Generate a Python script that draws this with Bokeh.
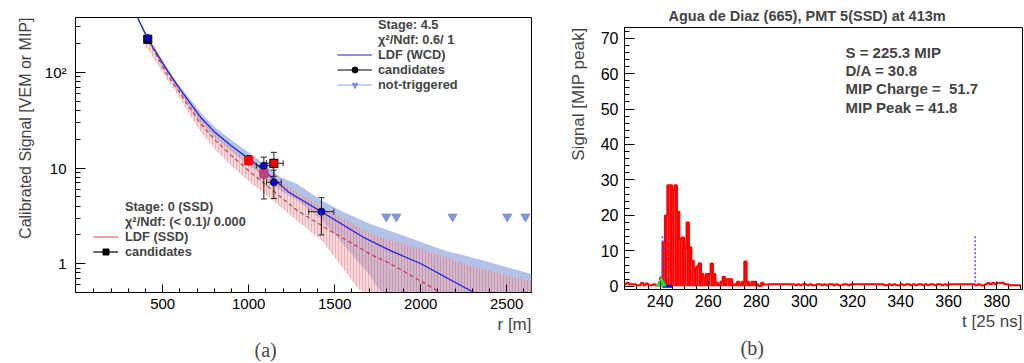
import math
from bokeh.plotting import figure
from bokeh.models import (ColumnDataSource, Legend, LegendItem, Label, FixedTicker,
                          Range1d, CustomJSTickFormatter, Title)
from bokeh.embed import file_html
from bokeh.resources import INLINE

FONT = "Liberation Sans"
SERIF = "Liberation Serif"

# ---------------- data: panel (a) lateral distribution ----------------
ldf_wcd_r = [353, 413, 526, 600, 720, 800, 900, 1040, 1233, 1423, 1669, 1824, 2001, 2309]
ldf_wcd_s = [375, 225, 105, 67, 34, 24, 17, 11.1, 5.6, 3.5, 1.88, 1.37, 1.0, 0.5]

wcd_band_r = [353, 413, 526, 600, 720, 800, 900, 1040, 1185, 1282, 1423, 1533, 1706, 1750, 1824, 2144,
              2309, 2644]
wcd_band_hi = [390, 240, 112, 72, 38, 27, 19.5, 13, 8.0, 6.8, 4.6, 3.6, 2.6, 2.45, 2.2, 1.37, 1.15, 0.78]
wcd_band_lo = [360, 212, 98, 62, 30, 21, 15, 9.5, 5.8, 4.6, 2.9, 1.74, 0.75, 0.56, 0.4, 0.2, 0.15, 0.1]

ldf_ssd_r = [400, 526, 600, 720, 800, 900, 1011, 1282, 1476, 1706, 1824, 2116]
ldf_ssd_s = [245, 95, 61, 29, 20, 13.5, 9.0, 3.6, 2.2, 1.26, 1.0, 0.5]

ssd_band_r = [400, 526, 600, 720, 800, 900, 1011, 1127, 1282, 1427, 1632, 1710, 2001, 2291, 2644]
ssd_band_hi = [240, 105, 68, 33, 23, 16, 11.5, 8.5, 5.6, 3.9, 2.45, 2.05, 1.43, 0.95, 0.65]
ssd_band_lo = [190, 85, 53, 24, 16, 10.5, 7.0, 4.8, 2.8, 1.74, 0.56, 0.42, 0.2, 0.1, 0.05]

# WCD candidates
wcd_r = [413, 1088, 1146, 1423]
wcd_s = [228, 10.6, 7.1, 3.5]
wcd_r_lo = [405, 1044, 1104, 1349]
wcd_r_hi = [421, 1137, 1189, 1495]
wcd_s_lo = [215, 4.75, 4.8, 2.0]
wcd_s_hi = [240, 13.0, 9.5, 4.9]

# SSD candidates
ssd_r = [413, 1000, 1088, 1146]
ssd_s = [222, 12.0, 8.8, 11.2]
ssd_r_lo = [405, 1000, 1066, 1104]
ssd_r_hi = [421, 1000, 1110, 1200]
ssd_s_lo = [212, 10.8, 7.9, 8.2]
ssd_s_hi = [232, 13.5, 9.8, 14.6]
ssd_colors = ["#111111", "#ff0000", "#c04080", "#ff0000"]
ssd_edge = ["#111111", "#ff0000", "#c04080", "#111111"]

# not-triggered stations
nt_r = [1800, 1858, 2185, 2503, 2609]
nt_s = [3.1, 3.1, 3.1, 3.1, 3.1]

# ---------------- data: panel (b) SSD trace ----------------
trace_t0 = 225
trace_values = (
    [0.6, 1.0, 0.6, 0.6, 0.6, 0.3, 0.3, 0.9, 0.3, 0.8, 0.3, 0.3, 0.6, 0.2, 0.2]
    + [2.5, 12.4, 20, 28.5, 28.5, 27.2, 28.5, 21, 13.5, 13.8, 10.8, 18, 11, 7.2, 4.9,
       5.6, 6.5, 3.5, 2.3, 3.5, 3.5, 6.4, 3.5, 1.1, 0.4, 1.3, 2.7, 2.0, 2.0, 2.0,
       0.6, 0.6, 1.3, 0.6, 1.3, 7.0, 1.3, 0.5, 1.3, 1.3, 0.5, 0.1, 1.0, 0.5, 0.5]
    + [0.6] * 11
    + [0.3, 0.6, 0.3, 0.6, 0.6, 0.3, 0.6, 0.3, 0.3, 0.6, 0.6, 0.3, 0.6, 0.3, 0.6,
       0.6, 0.3, 0.6, 0.3, 0.3, 0.6, 0.6, 0.3, 0.6, 0.6]
    + [0.6] * 12
    + [0.3, 0.3, 0.6, 0.3, 0.6, 0.3, 0.3]
    + [0.6, 0.3, 0.6, 0.6, 0.3, 0.6, 0.3, 0.6, 0.6, 0.3, 0.6, 0.3, 0.6, 0.6, 0.3,
       0.6, 0.6, 0.3, 0.6, 0.3, 0.6]
    + [0.6] * 9
    + [0.6, 0.3, 0.6, 0.3, 0.2, 0.6, 0.9, 0.6, 1.0, 0.6, 1.0, 0.9, 1.0, 0.6, 0.6,
       0.3, 0.3, 0.3, 0.3, 0.3]
)
pulse_first_bin = 240
pulse_last_bin = 282
window_t = [241, 371]
window_h = [14.5, 14.5]
start_bar_t = [241, 245]
trigger_t = [240.5]

info_lines = ["S = 225.3 MIP", "D/A = 30.8", "MIP Charge = \u00a051.7", "MIP Peak = 41.8"]

# ======================= panel (a) =======================
p1 = figure(width=545, height=363, x_range=Range1d(-7, 2644), y_range=Range1d(0.5, 375),
            y_axis_type="log", output_backend="svg", toolbar_location=None,
            min_border_left=75, min_border_right=14, min_border_top=17, min_border_bottom=71)
p1.grid.visible = False
p1.outline_line_color = "black"

p1.varea(x=wcd_band_r, y1=wcd_band_lo, y2=wcd_band_hi, fill_color="#b3c3e8", fill_alpha=1.0)
p1.varea(x=ssd_band_r, y1=ssd_band_lo, y2=ssd_band_hi, fill_color="#f3aab0", fill_alpha=0.45,
         hatch_pattern="vertical_line", hatch_color="#c84a68", hatch_alpha=0.3,
         hatch_scale=3, hatch_weight=1)
ldf_wcd = p1.line(ldf_wcd_r, ldf_wcd_s, line_color="#1a1ae6", line_width=1.2)
p1.line(ldf_ssd_r, ldf_ssd_s, line_color="#c83a3a", line_width=1.2, line_dash="4 3")

wsrc = ColumnDataSource(dict(r=wcd_r, s=wcd_s, rlo=wcd_r_lo, rhi=wcd_r_hi, slo=wcd_s_lo, shi=wcd_s_hi))
ssrc = ColumnDataSource(dict(r=ssd_r, s=ssd_s, rlo=ssd_r_lo, rhi=ssd_r_hi, slo=ssd_s_lo, shi=ssd_s_hi,
                             c=ssd_colors, e=ssd_edge))
for src in (ssrc, wsrc):
    p1.segment(x0="r", y0="slo", x1="r", y1="shi", source=src, line_color="#222222", line_width=1)
    p1.segment(x0="rlo", y0="s", x1="rhi", y1="s", source=src, line_color="#222222", line_width=1)
    p1.scatter(x="r", y="slo", source=src, marker="dash", size=6, line_color="#222222")
    p1.scatter(x="r", y="shi", source=src, marker="dash", size=6, line_color="#222222")
    p1.scatter(x="rlo", y="s", source=src, marker="dash", angle=math.pi / 2, size=6, line_color="#222222")
    p1.scatter(x="rhi", y="s", source=src, marker="dash", angle=math.pi / 2, size=6, line_color="#222222")

p1.scatter(x="r", y="s", source=ssrc, marker="square", size=8, fill_color="c", line_color="e",
           line_width=1.2)
p1.scatter(x="r", y="s", source=wsrc, marker="circle", size=7, fill_color="#0000ee", line_color="#111111")
nt = p1.scatter(nt_r, nt_s, marker="inverted_triangle", size=9, fill_color="#7b97d8",
                line_color="#7b97d8")

p1.xaxis.ticker = FixedTicker(ticks=[500, 1000, 1500, 2000, 2500],
                              minor_ticks=list(range(100, 2700, 100)))
p1.yaxis.ticker = FixedTicker(ticks=[1, 10, 100],
                              minor_ticks=[0.6, 0.7, 0.8, 0.9] + list(range(2, 10)) +
                              list(range(20, 100, 10)) + [200, 300])
p1.yaxis.formatter = CustomJSTickFormatter(code="return tick >= 100 ? '10\u00b2' : tick.toFixed(0);")
for ax in (p1.xaxis, p1.yaxis):
    ax.major_label_text_font = FONT
    ax.major_label_text_font_size = "15px"
    ax.major_label_text_color = "black"
    ax.axis_line_color = "black"
    ax.major_tick_out = 0
    ax.minor_tick_out = 0
p1.xaxis.major_tick_in = 8
p1.xaxis.minor_tick_in = 4
p1.yaxis.major_tick_in = 10
p1.yaxis.minor_tick_in = 5
p1.xaxis.major_label_standoff = 6
p1.yaxis.major_label_standoff = 9

# legend helper renderers (hidden; only their legend glyphs are shown)
def blank(p):
    return p.line(x=[], y=[], line_alpha=0)

cand_line = p1.line(wcd_r, wcd_s, line_color="black", line_width=1.2, visible=False)
cand_dot = p1.scatter(wcd_r, wcd_s, marker="circle", size=7, fill_color="black", line_color="black",
                      visible=False)
nt_line = p1.line(nt_r, nt_s, line_color="#8aa6e0", line_width=1.2, visible=False)
leg1 = Legend(items=[
    LegendItem(label="Stage: 4.5", renderers=[blank(p1)]),
    LegendItem(label="\u03c7\u00b2/Ndf: 0.6/ 1", renderers=[blank(p1)]),
    LegendItem(label="LDF (WCD)", renderers=[ldf_wcd]),
    LegendItem(label="candidates", renderers=[cand_line, cand_dot]),
    LegendItem(label="not-triggered", renderers=[nt_line, nt]),
], location=(262, 199.6))

ssd_leg_line = p1.line(ssd_r, ssd_s, line_color="#f08080", line_width=1.5, visible=False)
cand_line2 = p1.line(ssd_r, ssd_s, line_color="black", line_width=1.2, visible=False)
cand_sq = p1.scatter(ssd_r, ssd_s, marker="square", size=7, fill_color="black", line_color="black",
                     visible=False)
leg2 = Legend(items=[
    LegendItem(label="Stage: 0 (SSD)", renderers=[blank(p1)]),
    LegendItem(label="\u03c7\u00b2/Ndf: (< 0.1)/ 0.000", renderers=[blank(p1)]),
    LegendItem(label="LDF (SSD)", renderers=[ssd_leg_line]),
    LegendItem(label="candidates", renderers=[cand_line2, cand_sq]),
], location=(18, 32.8))
for leg, gw, st in ((leg1, 35, 6), (leg2, 25, 7)):
    leg.padding = 0
    leg.margin = 0
    leg.spacing = 0
    leg.glyph_width = gw
    leg.glyph_height = 15
    leg.label_height = 15
    leg.label_standoff = st
    leg.label_text_font = FONT
    leg.label_text_font_style = "bold"
    leg.label_text_font_size = "12.8px"
    leg.label_text_line_height = 1.0
    leg.border_line_color = None
    leg.background_fill_alpha = 0
    leg.inactive_fill_alpha = 0
    p1.add_layout(leg, "center")

p1.add_layout(Title(text="Calibrated Signal [VEM or MIP]", align="right", text_font=FONT,
                    text_font_size="16px", text_font_style="normal", standoff=15), "left")
p1.add_layout(Title(text="r [m]", align="right", text_font=FONT, text_font_size="17px",
                    text_font_style="normal", standoff=3), "below")
p1.add_layout(Title(text="(a)", align="left", offset=179, text_font=SERIF, text_font_size="20px",
                    text_font_style="normal", standoff=2), "below")

# ======================= panel (b) =======================
p2 = figure(width=479, height=363, x_range=Range1d(225.2, 390.7), y_range=Range1d(-0.9, 73),
            output_backend="svg", toolbar_location=None,
            title="Agua de Diaz (665), PMT 5(SSD) at 413m",
            min_border_left=79, min_border_right=2, min_border_top=27, min_border_bottom=74)
p2.grid.visible = False
p2.outline_line_color = "black"
p2.title.align = "left"
p2.title.offset = 44
p2.title.text_font = FONT
p2.title.text_font_size = "14.5px"
p2.title.text_font_style = "bold"
p2.title.standoff = 8

bin_lo = [trace_t0 + i for i in range(len(trace_values))]
fill_lo = [t for t in bin_lo if pulse_first_bin <= t <= pulse_last_bin]
fill_top = [v for t, v in zip(bin_lo, trace_values) if pulse_first_bin <= t <= pulse_last_bin]
p2.quad(left=fill_lo, right=[t + 1 for t in fill_lo], bottom=0, top=fill_top,
        fill_color="#ff0000", line_color=None)
p2.step(x=bin_lo + [bin_lo[-1] + 1], y=trace_values + [trace_values[-1]], mode="after",
        line_color="#ff0000", line_width=2)
p2.segment(x0=window_t, y0=[0, 0], x1=window_t, y1=window_h, line_color="#5050ff",
           line_width=1.5, line_dash="2 2")
p2.line(start_bar_t, [0, 0], line_color="#0000ee", line_width=3)
p2.scatter(trigger_t, [0.9], marker="triangle", size=10, fill_color="#22dd22", line_color="#22dd22")

p2.xaxis.ticker = FixedTicker(ticks=list(range(240, 400, 20)), minor_ticks=list(range(230, 395, 5)))
p2.yaxis.ticker = FixedTicker(ticks=list(range(0, 80, 10)), minor_ticks=list(range(0, 74, 2)))
for ax in (p2.xaxis, p2.yaxis):
    ax.major_label_text_font = FONT
    ax.major_label_text_font_size = "16px"
    ax.major_label_text_color = "black"
    ax.axis_line_color = "black"
    ax.major_tick_out = 0
    ax.minor_tick_out = 0
p2.xaxis.major_tick_in = 8
p2.xaxis.minor_tick_in = 4
p2.yaxis.major_tick_in = 10
p2.yaxis.minor_tick_in = 5
p2.xaxis.major_label_standoff = 5
p2.yaxis.major_label_standoff = 6

for i, line in enumerate(info_lines):
    p2.add_layout(Label(x=221, y=237.3 - 18.3 * i, x_units="screen", y_units="screen", text=line,
                        text_font=FONT, text_font_size="15px", text_font_style="bold",
                        text_align="left", text_baseline="middle"))
p2.add_layout(Title(text="Signal [MIP peak]", align="right", text_font=FONT, text_font_size="17px",
                    text_font_style="normal", standoff=19), "left")
p2.add_layout(Title(text="t [25 ns]", align="right", text_font=FONT, text_font_size="17px",
                    text_font_style="normal", standoff=1), "below")
p2.add_layout(Title(text="(b)", align="left", offset=116, text_font=SERIF, text_font_size="20px",
                    text_font_style="normal", standoff=7), "below")

# two independent roots laid side by side (so the frames are not forced to align)
html = file_html([p1, p2], INLINE)
html = html.replace("</head>",
                    "<style>body { display: flex !important; flex-direction: row; "
                    "align-items: flex-start; }</style></head>", 1)
open("out.html", "w").write(html)
